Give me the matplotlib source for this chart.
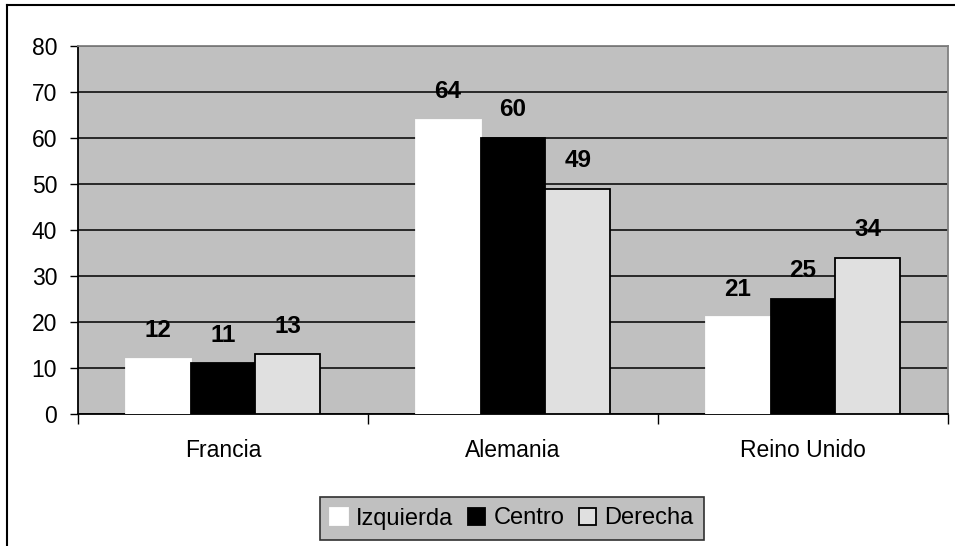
import numpy as np
import matplotlib.pyplot as plt
from matplotlib.lines import Line2D

plt.rcParams['font.family'] = ['Liberation Sans', 'DejaVu Sans']

paises = ['Francia', 'Alemania', 'Reino Unido']
series = ['Izquierda', 'Centro', 'Derecha']
izquierda = [12, 64, 21]
centro = [11, 60, 25]
derecha = [13, 49, 34]

colores = ['#FFFFFF', '#000000', '#E0E0E0']
bordes = ['#FFFFFF', '#000000', '#000000']

fig = plt.figure(figsize=(9.55, 5.46), dpi=100)
ax = fig.add_axes([78/955, 1-414/546, (948-78)/955, (414-46)/546])
ax.set_facecolor('#C0C0C0')

x = np.arange(len(paises))
w = 0.224
for i, (vals, nombre) in enumerate(zip([izquierda, centro, derecha], series)):
    pos = x + (i - 1) * w
    bars = ax.bar(pos, vals, w, color=colores[i], edgecolor=bordes[i],
                  linewidth=1.3, label=nombre, zorder=3)
    for b, v in zip(bars, vals):
        ax.annotate(str(v), (b.get_x() + b.get_width()/2, v), xytext=(0, 12),
                    textcoords='offset points', ha='center', va='bottom',
                    fontsize=17.5, fontweight='bold', zorder=4)

ax.set_xlim(-0.5, 2.5)
ax.set_ylim(0, 80)
ax.set_yticks(range(0, 81, 10))
ax.yaxis.grid(True, color='black', linewidth=1.1, zorder=0)
ax.set_axisbelow(True)

# ticks at category boundaries, labels centred
ax.set_xticks([-0.5, 0.5, 1.5, 2.5])
ax.set_xticklabels([])
ax.set_xticks(x, minor=True)
ax.set_xticklabels(paises, minor=True)
ax.tick_params(axis='x', which='minor', length=0, pad=18, labelsize=16.5)
ax.tick_params(axis='x', which='major', length=7, width=1, direction='out')
ax.tick_params(axis='y', length=6, width=1, pad=9, labelsize=16.5)

ax.spines['left'].set_color('black')
ax.spines['bottom'].set_color('black')
ax.spines['top'].set_color('#808080')
ax.spines['right'].set_color('#808080')
for s in ax.spines.values():
    s.set_linewidth(1.3)

leg = fig.legend(loc='center', bbox_to_anchor=(512/955, 1-518.5/546), ncol=3,
                 fontsize=17, frameon=True, fancybox=False, handlelength=0.75,
                 handleheight=0.75, handletextpad=0.35, columnspacing=0.6,
                 borderpad=0.45, borderaxespad=0)
leg.get_frame().set_facecolor('#C0C0C0')
leg.get_frame().set_edgecolor('#303030')
leg.get_frame().set_linewidth(1.2)
leg.get_frame().set_alpha(1)

# outer chart border (top and left visible)
fig.add_artist(Line2D([6.5/955, 6.5/955], [0, 1-4.5/546], color='black', linewidth=1.5))
fig.add_artist(Line2D([6.5/955, 1], [1-4.5/546, 1-4.5/546], color='black', linewidth=1.5))

fig.savefig('out.png', dpi=100)
